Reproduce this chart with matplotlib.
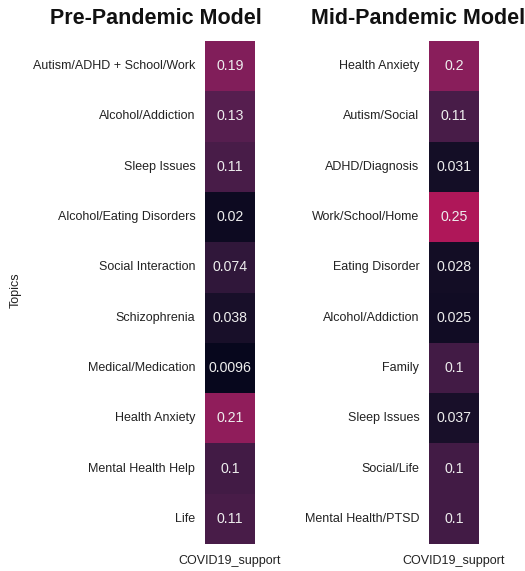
import matplotlib
matplotlib.use("Agg")
import matplotlib.pyplot as plt
import numpy as np
import seaborn as sns

plt.rcParams['font.family'] = ['Liberation Sans', 'DejaVu Sans']

pre_topics = ["Autism/ADHD + School/Work", "Alcohol/Addiction", "Sleep Issues",
              "Alcohol/Eating Disorders", "Social Interaction", "Schizophrenia",
              "Medical/Medication", "Health Anxiety", "Mental Health Help", "Life"]
pre_values = [0.19, 0.13, 0.11, 0.02, 0.074, 0.038, 0.0096, 0.21, 0.1, 0.11]

mid_topics = ["Health Anxiety", "Autism/Social", "ADHD/Diagnosis", "Work/School/Home",
              "Eating Disorder", "Alcohol/Addiction", "Family", "Sleep Issues",
              "Social/Life", "Mental Health/PTSD"]
mid_values = [0.2, 0.11, 0.031, 0.25, 0.028, 0.025, 0.1, 0.037, 0.1, 0.1]

column = ["COVID19_support"]
titles = ["Pre-Pandemic Model", "Mid-Pandemic Model"]

W, H = 525, 571
fig = plt.figure(figsize=(W / 100, H / 100), dpi=100)

def add_ax(x0, x1, y0, y1):
    return fig.add_axes([x0 / W, 1 - y1 / H, (x1 - x0) / W, (y1 - y0) / H])

ax1 = add_ax(205, 255, 41, 544)
ax2 = add_ax(429, 479, 41, 544)

for ax, topics, vals, title, tx in [(ax1, pre_topics, pre_values, titles[0], 156),
                                     (ax2, mid_topics, mid_values, titles[1], 418)]:
    data = np.array(vals).reshape(-1, 1)
    sns.heatmap(data, ax=ax, cmap="rocket", vmin=0, vmax=0.58, cbar=False,
                annot=True, fmt=".2g", annot_kws={"fontsize": 10.2, "color": "#eeeeee"},
                xticklabels=column, yticklabels=topics)
    ax.tick_params(axis='both', length=0, labelsize=9.0, colors="#222222")
    ax.tick_params(axis='x', pad=8)
    ax.tick_params(axis='y', pad=7)
    ax.set_yticklabels(topics, rotation=0)
    ax.set_xticklabels(column, rotation=0)
    fig.text(tx / W, 1 - 18 / H, title, ha='center', va='center',
             fontsize=15.5, fontweight='bold', color="#111111")

fig.text(16 / W, 1 - 290 / H, "Topics", rotation=90, ha='center', va='center',
         fontsize=9.0, color="#222222")

fig.savefig("out.png", dpi=100)
